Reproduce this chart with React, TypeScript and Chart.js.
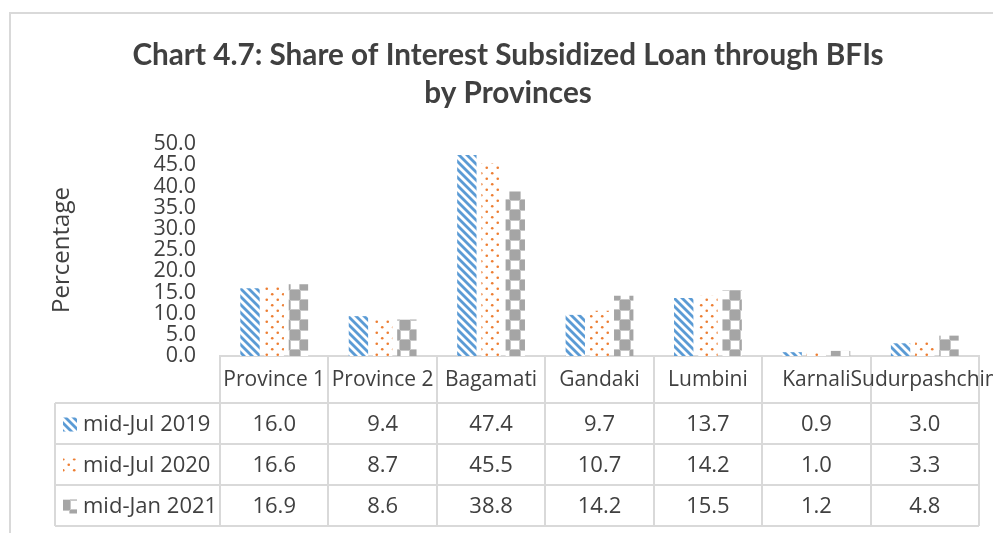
import React, { useEffect, useRef } from "react";
import { Chart, registerables } from "chart.js";

Chart.register(...registerables);

const titleLines = ["Chart 4.7: Share of Interest Subsidized Loan through BFIs", "by Provinces"];
const yAxisTitle = "Percentage";
const categories = ["Province 1", "Province 2", "Bagamati", "Gandaki", "Lumbini", "Karnali", "Sudurpashchim"];
const seriesNames = ["mid-Jul 2019", "mid-Jul 2020", "mid-Jan 2021"];
const midJul2019 = [16.0, 9.4, 47.4, 9.7, 13.7, 0.9, 3.0];
const midJul2020 = [16.6, 8.7, 45.5, 10.7, 14.2, 1.0, 3.3];
const midJan2021 = [16.9, 8.6, 38.8, 14.2, 15.5, 1.2, 4.8];
const yMin = 0;
const yMax = 50;
const yStep = 5;

const TEXT = "#404040";
const LINE = "#d9d9d9";
const BODY_FONT = "'Open Sans', sans-serif";

function makePattern(kind: string): CanvasPattern | string {
  const c = document.createElement("canvas");
  const g = c.getContext("2d");
  if (!g) return "#999";
  if (kind === "stripes") {
    c.width = 8; c.height = 8;
    g.fillStyle = "#fff"; g.fillRect(0, 0, 8, 8);
    g.strokeStyle = "#5B9BD5"; g.lineWidth = 2.8;
    for (const o of [-8, 0, 8]) {
      g.beginPath(); g.moveTo(o - 2, -2); g.lineTo(o + 10, 10); g.stroke();
    }
  } else if (kind === "dots") {
    c.width = 11; c.height = 11;
    g.fillStyle = "#fff"; g.fillRect(0, 0, 11, 11);
    g.fillStyle = "#ED7D31";
    for (const [px, py] of [[2.75, 2.75], [8.25, 8.25]]) {
      g.beginPath(); g.arc(px, py, 1.3, 0, Math.PI * 2); g.fill();
    }
  } else {
    c.width = 20; c.height = 20;
    g.fillStyle = "#fff"; g.fillRect(0, 0, 20, 20);
    g.fillStyle = "#A5A5A5";
    g.fillRect(0, 0, 10, 10); g.fillRect(10, 10, 10, 10);
    g.strokeStyle = "#c8c8c8"; g.lineWidth = 1;
    g.strokeRect(10.5, 0.5, 9, 9); g.strokeRect(0.5, 10.5, 9, 9);
  }
  const p = g.createPattern(c, "repeat");
  return p || "#999";
}

export default function App() {
  const ref = useRef<HTMLCanvasElement | null>(null);

  useEffect(() => {
    const canvas = ref.current;
    if (!canvas) return;
    const patterns = [makePattern("stripes"), makePattern("dots"), makePattern("checks")];
    const values = [midJul2019, midJul2020, midJan2021];

    const framePlugin = {
      id: "frame",
      beforeDraw(chart: any) {
        const ctx = chart.ctx;
        ctx.save();
        ctx.fillStyle = "#fff";
        ctx.fillRect(0, 0, chart.width, chart.height);
        ctx.strokeStyle = LINE;
        ctx.lineWidth = 2;
        ctx.beginPath();
        ctx.moveTo(10, chart.height);
        ctx.lineTo(10, 13);
        ctx.lineTo(chart.width, 13);
        ctx.stroke();
        ctx.restore();
      },
    };

    const tablePlugin = {
      id: "dataTable",
      afterDraw(chart: any) {
        const { ctx, chartArea } = chart;
        const L = chartArea.left, R = chartArea.right, B = chartArea.bottom;
        const n = categories.length;
        const cw = (R - L) / n;
        const headerBottom = B + 47;
        const rowH = 41;
        const tableLeft = 55;
        const tableBottom = headerBottom + rowH * seriesNames.length;
        ctx.save();
        ctx.strokeStyle = LINE;
        ctx.lineWidth = 2;
        for (let i = 0; i <= n; i++) {
          const x = Math.round(L + i * cw);
          ctx.beginPath(); ctx.moveTo(x, B); ctx.lineTo(x, tableBottom); ctx.stroke();
        }
        ctx.beginPath(); ctx.moveTo(tableLeft, headerBottom); ctx.lineTo(tableLeft, tableBottom); ctx.stroke();
        for (let r = 0; r <= seriesNames.length; r++) {
          const y = headerBottom + r * rowH;
          ctx.beginPath(); ctx.moveTo(tableLeft, y); ctx.lineTo(R, y); ctx.stroke();
        }
        ctx.fillStyle = TEXT;
        ctx.font = `21px ${BODY_FONT}`;
        ctx.textBaseline = "middle";
        let prevEnd = 0;
        const hy = (B + headerBottom) / 2 + 1;
        categories.forEach((c, i) => {
          const w = ctx.measureText(c).width;
          const cx = L + (i + 0.5) * cw;
          let sx = cx - w / 2;
          if (w > cw - 4) sx = prevEnd;
          ctx.textAlign = "left";
          ctx.fillText(c, sx, hy);
          prevEnd = sx + w;
        });
        ctx.font = `22px ${BODY_FONT}`;
        seriesNames.forEach((s, r) => {
          const cy = headerBottom + (r + 0.5) * rowH + 1;
          ctx.fillStyle = patterns[r] as any;
          ctx.fillRect(63, cy - 7, 14, 14);
          ctx.fillStyle = TEXT;
          ctx.textAlign = "left";
          ctx.fillText(s, 83, cy);
          ctx.textAlign = "center";
          values[r].forEach((v, i) => {
            ctx.fillText(v.toFixed(1), L + (i + 0.5) * cw, cy);
          });
        });
        ctx.restore();
      },
    };

    const chart = new Chart(canvas, {
      type: "bar",
      data: {
        labels: categories,
        datasets: seriesNames.map((name, i) => ({
          label: name,
          data: values[i],
          backgroundColor: patterns[i] as any,
          borderWidth: 0,
          categoryPercentage: 0.67,
          barPercentage: 0.8,
        })),
      },
      options: {
        animation: false,
        responsive: false,
        maintainAspectRatio: false,
        layout: { padding: { left: 37, right: 14, top: 0, bottom: 0 } },
        plugins: {
          legend: { display: false },
          tooltip: { enabled: false },
          title: {
            display: true,
            text: titleLines,
            color: TEXT,
            font: { family: "Lato, sans-serif", size: 29.7, weight: "bold", lineHeight: 1.28 },
            padding: { top: 36, bottom: 32 },
          },
        },
        scales: {
          x: {
            grid: { display: false, drawTicks: false },
            border: { display: true, color: LINE, width: 2 },
            ticks: { display: false },
            afterFit(scale: any) { scale.height = 177; },
          },
          y: {
            min: yMin,
            max: yMax,
            grid: { display: false, drawTicks: false },
            border: { display: false },
            ticks: {
              stepSize: yStep,
              autoSkip: false,
              padding: 24,
              color: TEXT,
              font: { family: BODY_FONT, size: 21.5, lineHeight: 1 },
              callback: (v: any) => Number(v).toFixed(1),
            },
            title: {
              display: true,
              text: yAxisTitle,
              color: TEXT,
              font: { family: BODY_FONT, size: 24, lineHeight: 1.2 },
              padding: { top: 11, bottom: 0 },
            },
            afterFit(scale: any) { scale.width = 183; },
          },
        },
      },
      plugins: [framePlugin, tablePlugin],
    });
    return () => chart.destroy();
  }, []);

  return (
    <div style={{ position: "fixed", left: 0, top: 0, width: 993, height: 533, background: "#fff" }}>
      <canvas ref={ref} width={993} height={533} style={{ width: 993, height: 533, display: "block" }} />
    </div>
  );
}
